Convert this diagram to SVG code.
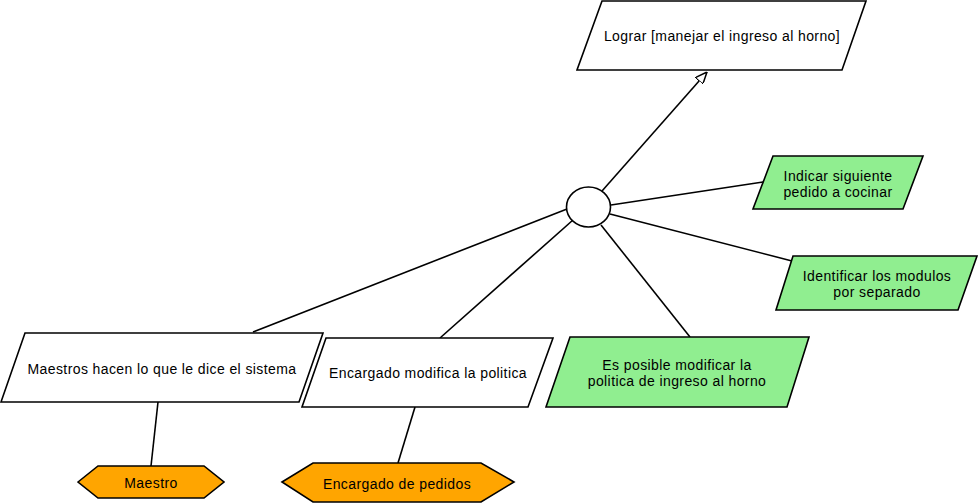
<svg xmlns="http://www.w3.org/2000/svg" width="980" height="504" viewBox="0 0 980 504">
<defs>
<marker id="tri" viewBox="0 0 12 10" refX="12" refY="5" markerWidth="12" markerHeight="10" markerUnits="userSpaceOnUse" orient="auto">
<path d="M0,0 L12,5 L0,10 Z" fill="#fff" stroke="#000" stroke-width="1.5"/>
</marker>
<style>
.n{stroke:#000;stroke-width:1.6;fill:#fff}
.g{fill:#90ee90}
.o{fill:#ffa500}
.c{stroke:#000;stroke-width:1.6;fill:none}
text{font-family:"Liberation Sans",Arial,sans-serif;font-size:14px;letter-spacing:0.4px;fill:#000;text-anchor:middle}
</style>
</defs>
<rect width="980" height="504" fill="#fff"/>
<g id="connectors">
<line class="c" x1="602" y1="191" x2="707" y2="72" marker-end="url(#tri)"/>
<line class="c" x1="611" y1="205" x2="763" y2="182"/>
<line class="c" x1="610" y1="214" x2="792" y2="261"/>
<line class="c" x1="601" y1="225" x2="690" y2="337"/>
<line class="c" x1="567" y1="209" x2="253" y2="332"/>
<line class="c" x1="573" y1="220" x2="440" y2="338"/>
<line class="c" x1="158" y1="402" x2="151" y2="466"/>
<line class="c" x1="415" y1="407" x2="398" y2="463"/>
</g>
<g id="goal">
<polygon class="n" points="602,1 866,1 842,70 577,70"/>
<text x="722" y="41">Lograr [manejar el ingreso al horno]</text>
</g>
<g id="and">
<ellipse class="n" cx="588.5" cy="207" rx="22" ry="20"/>
</g>
<g id="indicar">
<polygon class="n g" points="773,156 923,156 903,209 753,209"/>
<text x="838" y="181">Indicar siguiente</text>
<text x="838" y="197">pedido a cocinar</text>
</g>
<g id="identificar">
<polygon class="n g" points="793,256 977,256 958,310 776,310"/>
<text x="877" y="281">Identificar los modulos</text>
<text x="877" y="297">por separado</text>
</g>
<g id="posible">
<polygon class="n g" points="570,337 809,337 787,407 546,407"/>
<text x="677" y="370">Es posible modificar la</text>
<text x="677" y="386">politica de ingreso al horno</text>
</g>
<g id="maestros">
<polygon class="n" points="25,333 323,333 299,402 1,402"/>
<text x="162" y="374">Maestros hacen lo que le dice el sistema</text>
</g>
<g id="encargado">
<polygon class="n" points="326,338 553,338 528,407 302,407"/>
<text x="428" y="378">Encargado modifica la politica</text>
</g>
<g id="maestro">
<polygon class="n o" points="78,482 98,466 204,466 224,482 204,498 98,498"/>
<text x="151" y="488">Maestro</text>
</g>
<g id="encargado-pedidos">
<polygon class="n o" points="282,482 313,463 481,463 514,482 481,502 313,502"/>
<text x="397" y="489">Encargado de pedidos</text>
</g>
</svg>
